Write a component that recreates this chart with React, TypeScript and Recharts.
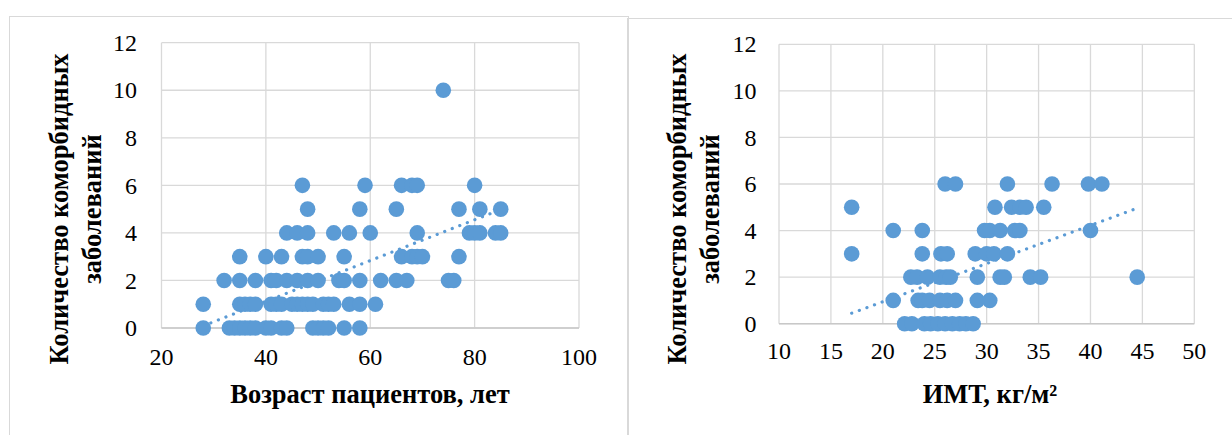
import { ScatterChart, Scatter, XAxis, YAxis, CartesianGrid, ReferenceLine } from "recharts";

const BLUE = "#5b9bd5";
const GRID = "#d9d9d9";
const FONT = '"Liberation Serif", "Times New Roman", serif';

const countTicks = [0, 2, 4, 6, 8, 10, 12];
const ageTicks = [20, 40, 60, 80, 100];
const bmiTicks = [10, 15, 20, 25, 30, 35, 40, 45, 50];

// ages of patients, grouped by number of comorbid diseases
const age0 = [28, 33, 34, 35, 36, 37, 38, 40, 41, 43, 44, 49, 50, 51, 52, 55, 58];
const age1 = [28, 35, 36, 37, 38, 41, 42, 43, 45, 46, 47, 48, 49, 51, 52, 53, 56, 58, 61];
const age2 = [32, 35, 38, 41, 42, 44, 46, 48, 50, 54, 55, 58, 62, 65, 67, 75, 76];
const age3 = [35, 40, 43, 47, 48, 50, 55, 66, 68, 69, 70, 77];
const age4 = [44, 46, 48, 53, 56, 60, 69, 79, 80, 81, 84, 85];
const age5 = [48, 58, 65, 77, 81, 85];
const age6 = [47, 59, 66, 68, 69, 80];
const age10 = [74];

// BMI, grouped the same way
const bmi0 = [22.1, 22.8, 24, 24.6, 25.3, 26, 26.7, 27.4, 28, 28.7];
const bmi1 = [21, 23.4, 23.8, 24.5, 25.5, 26.2, 27, 29.1, 30.3];
const bmi2 = [22.7, 23.3, 24.3, 25.5, 26.1, 26.5, 29.1, 31.3, 31.7, 34.2, 35.2, 44.5];
const bmi3 = [17, 23.8, 25.6, 26.2, 28.9, 30, 30.7, 32];
const bmi4 = [21, 23.8, 29.8, 30.3, 31.3, 32.7, 33.2, 40];
const bmi5 = [17, 30.8, 32.4, 33.2, 33.8, 35.5];
const bmi6 = [26, 27, 32, 36.3, 39.8, 41.1];

// linear trend lines (end points)
const ageTrendX = [28, 85];
const ageTrendY = [0.09, 4.98];
const bmiTrendX = [17, 44.5];
const bmiTrendY = [0.45, 4.96];

const toPoints = (groups: [number, number[]][]) =>
  groups.flatMap(([y, xs]) => xs.map((x) => ({ x, y })));

const agePoints = toPoints([[0, age0], [1, age1], [2, age2], [3, age3], [4, age4], [5, age5], [6, age6], [10, age10]]);
const bmiPoints = toPoints([[0, bmi0], [1, bmi1], [2, bmi2], [3, bmi3], [4, bmi4], [5, bmi5], [6, bmi6]]);

const Dot = (p: any) => <circle cx={p.cx} cy={p.cy} r={7.8} fill={BLUE} />;

const XTick = (p: any) => (
  <text x={p.x} y={p.y} dy="0.71em" textAnchor="middle" fill="#000" fontSize={24} fontFamily={FONT}>
    {p.payload.value}
  </text>
);
const YTick = (p: any) => (
  <text x={p.x} y={p.y} dy="0.34em" textAnchor="end" fill="#000" fontSize={24} fontFamily={FONT}>
    {p.payload.value}
  </text>
);

type PanelProps = {
  left: number;
  width: number;
  top: number;
  right: number;
  yAxisWidth: number;
  xAxisHeight: number;
  points: { x: number; y: number }[];
  xTicks: number[];
  trendX: number[];
  trendY: number[];
  xTitle: string;
  xTitleX: number;
  yTitleX: number;
  xTickMargin: number;
  yTickMargin: number;
};

function Panel(p: PanelProps) {
  const title = { fill: "#000", fontSize: 26.5, fontFamily: FONT, fontWeight: 700 };
  return (
    <div style={{ position: "absolute", left: p.left, top: 0, fontFamily: FONT }}>
      <ScatterChart width={p.width} height={435} margin={{ top: p.top, right: p.right, bottom: 0, left: 0 }}>
        <CartesianGrid stroke={GRID} strokeWidth={1.3} />
        <XAxis
          type="number" dataKey="x" domain={[p.xTicks[0], p.xTicks[p.xTicks.length - 1]]} ticks={p.xTicks}
          height={p.xAxisHeight} tickSize={0} tickMargin={p.xTickMargin} tick={XTick}
          axisLine={{ stroke: "#c8c8c8", strokeWidth: 1.5 }}
          label={{
            content: () => (
              <text x={p.xTitleX} y={394} textAnchor="middle" dominantBaseline="central" {...title}>
                {p.xTitle}
              </text>
            ),
          }}
        />
        <YAxis
          type="number" dataKey="y" domain={[0, 12]} ticks={countTicks} width={p.yAxisWidth}
          tickSize={0} tickMargin={p.yTickMargin} tick={YTick} axisLine={false}
          label={{
            content: () => (
              <g {...title}>
                <text x={p.yTitleX} y={209} textAnchor="middle" dominantBaseline="central"
                  transform={`rotate(-90 ${p.yTitleX} 209)`}>
                  Количество коморбидных
                </text>
                <text x={p.yTitleX + 33} y={209} textAnchor="middle" dominantBaseline="central"
                  transform={`rotate(-90 ${p.yTitleX + 33} 209)`}>
                  заболеваний
                </text>
              </g>
            ),
          }}
        />
        <Scatter data={p.points} shape={Dot} isAnimationActive={false} />
        <ReferenceLine
          segment={[{ x: p.trendX[0], y: p.trendY[0] }, { x: p.trendX[1], y: p.trendY[1] }]}
          stroke={BLUE} strokeWidth={3.2} strokeDasharray="0.1 8" strokeLinecap="round"
        />
      </ScatterChart>
    </div>
  );
}

export default function App() {
  return (
    <div style={{ position: "absolute", left: 0, top: 0, width: 1232, height: 435, overflow: "hidden", background: "#fff" }}>
      <div style={{ position: "absolute", left: 9, top: 16, width: 618, height: 500, border: `1px solid ${GRID}` }} />
      <div style={{ position: "absolute", left: 627, top: 18, width: 700, height: 500, border: `1px solid ${GRID}` }} />
      <Panel
        left={0} width={620} top={42.7} right={41} yAxisWidth={161.5} xAxisHeight={107}
        points={agePoints} xTicks={ageTicks} trendX={ageTrendX} trendY={ageTrendY}
        xTitle="Возраст пациентов, лет" xTitleX={370} yTitleX={59} xTickMargin={20} yTickMargin={24.5}
      />
      <Panel
        left={620} width={612} top={44.3} right={37.7} yAxisWidth={159} xAxisHeight={111.3}
        points={bmiPoints} xTicks={bmiTicks} trendX={bmiTrendX} trendY={bmiTrendY}
        xTitle="ИМТ, кг/м²" xTitleX={370} yTitleX={57} xTickMargin={18} yTickMargin={22.5}
      />
    </div>
  );
}
